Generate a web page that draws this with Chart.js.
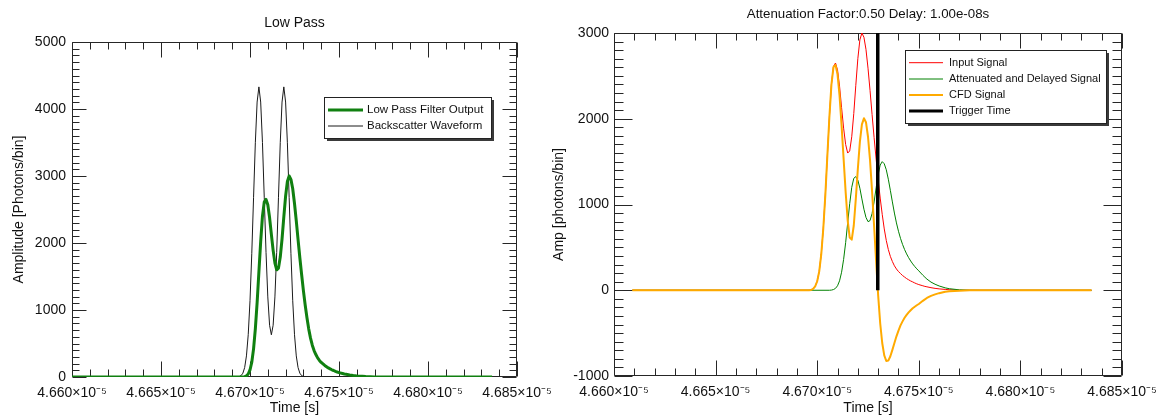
<!DOCTYPE html>
<html><head><meta charset="utf-8">
<script src="https://cdn.jsdelivr.net/npm/chart.js@4.4.1/dist/chart.umd.min.js"></script>
<style>
html,body{margin:0;padding:0;background:#fff;width:1159px;height:417px;overflow:hidden;}
canvas{position:absolute;top:0;}
#left{left:0}
#right{left:540px}
</style></head><body>
<canvas id="left" width="580" height="417"></canvas>
<canvas id="right" width="619" height="417"></canvas>
<script>
// ---------- tick labels ----------
const xTicksNs = [46600, 46650, 46700, 46750, 46800, 46850];   // time in ns (4.660e-5 s ...)
const yTicksLeft = [0, 1000, 2000, 3000, 4000, 5000];
const yTicksRight = [-1000, 0, 1000, 2000, 3000];

// ---------- left chart: Low Pass ----------
const backscatterTimeNs = [46600, 46694, 46695, 46696, 46697, 46698, 46699, 46700, 46701, 46702, 46703, 46704, 46705, 46706, 46707, 46708, 46709, 46710, 46711, 46712, 46713, 46714, 46715, 46716, 46717, 46718, 46719, 46720, 46721, 46722, 46723, 46724, 46725, 46726, 46727, 46728, 46729, 46730, 46731, 46732, 46836];
const backscatterAmp = [0, 7, 21, 57, 141, 315, 631, 1138, 1840, 2676, 3496, 4104, 4330, 4104, 3498, 2683, 1861, 1195, 772, 630, 772, 1195, 1861, 2683, 3498, 4104, 4330, 4104, 3496, 2676, 1840, 1138, 631, 315, 141, 57, 21, 7, 2, 0, 0];

// low pass filter output (= input signal of the CFD panel)
const lowPassTimeNs = [46696, 46697, 46698, 46699, 46700, 46701, 46702, 46703, 46704, 46705, 46706, 46707, 46708, 46709, 46710, 46711, 46712, 46713, 46714, 46715, 46716, 46717, 46718, 46719, 46720, 46721, 46722, 46723, 46724, 46725, 46726, 46727, 46728, 46729, 46730, 46731, 46732, 46733, 46734, 46735, 46736, 46737, 46738, 46739, 46740, 46741, 46742, 46743, 46744, 46745, 46746, 46747, 46748, 46749, 46750, 46752, 46753, 46754, 46756, 46758, 46760, 46763, 46765, 46770];
const lowPassAmp = [0, 4, 15, 45, 105, 220, 420, 720, 1110, 1570, 2020, 2400, 2610, 2650, 2570, 2380, 2130, 1890, 1700, 1600, 1625, 1790, 2060, 2390, 2700, 2920, 3000, 2950, 2810, 2590, 2330, 2050, 1780, 1530, 1290, 1075, 885, 715, 580, 475, 395, 335, 285, 248, 218, 195, 172, 154, 136, 122, 108, 97, 85, 75, 66, 52, 45, 40, 30, 22, 16, 10, 6, 0];
const leftSpanNs = [46600, 46836];

// ---------- right chart: CFD ----------
const attenTimeNs = [46706, 46707, 46708, 46709, 46710, 46711, 46712, 46713, 46714, 46715, 46716, 46717, 46718, 46719, 46720, 46721, 46722, 46723, 46724, 46725, 46726, 46727, 46728, 46729, 46730, 46731, 46732, 46733, 46734, 46735, 46736, 46737, 46738, 46739, 46740, 46741, 46742, 46743, 46744, 46745, 46746, 46747, 46748, 46749, 46750, 46752, 46753, 46754, 46756, 46758, 46760, 46763, 46765, 46770, 46775, 46780];
const attenAmp = [0, 2, 8, 22, 52, 110, 210, 360, 555, 785, 1010, 1200, 1305, 1325, 1285, 1190, 1065, 945, 850, 800, 812, 895, 1030, 1195, 1350, 1460, 1500, 1475, 1405, 1295, 1165, 1030, 900, 785, 688, 605, 535, 475, 424, 380, 341, 307, 277, 250, 226, 175, 152, 130, 95, 70, 50, 28, 18, 5, 1, 0];
const cfdTimeNs = [46696, 46697, 46698, 46699, 46700, 46701, 46702, 46703, 46704, 46705, 46706, 46707, 46708, 46709, 46710, 46711, 46712, 46713, 46714, 46715, 46716, 46717, 46718, 46719, 46720, 46721, 46722, 46723, 46724, 46725, 46726, 46727, 46728, 46729, 46730, 46731, 46732, 46733, 46734, 46735, 46736, 46737, 46738, 46739, 46740, 46741, 46742, 46743, 46744, 46745, 46746, 46747, 46748, 46749, 46750, 46752, 46753, 46754, 46756, 46758, 46760, 46763, 46765, 46770, 46775, 46780];
const cfdAmp = [0, 4, 15, 45, 105, 220, 420, 720, 1110, 1570, 2020, 2398, 2602, 2628, 2518, 2270, 1920, 1530, 1145, 815, 615, 590, 755, 1065, 1415, 1730, 1935, 2005, 1960, 1790, 1518, 1155, 750, 335, -60, -385, -615, -760, -825, -820, -770, -695, -615, -537, -470, -410, -363, -321, -288, -258, -233, -210, -192, -175, -160, -123, -107, -90, -65, -48, -34, -18, -12, -5, -1, 0];
const rightSpanNs = [46609, 46835];
const triggerTimeNs = [46729.8, 46729.8];
const triggerAmp = [0, 3000];

// ---------- helpers ----------
const FONT = 'Liberation Sans';
function pts(xs, ys) { return xs.map((x, i) => ({x: x, y: ys[i]})); }
function padded(xs, ys, span) {
  return [{x: span[0], y: 0}].concat(pts(xs, ys), [{x: span[1], y: 0}]);
}
const fmtX = v => (v / 1e4).toFixed(3) + '×10⁻⁵';

const frameTicks = {
  id: 'frameTicks',
  beforeDatasetsDraw(chart, args, o) {
    const {ctx, chartArea: a, scales: {x, y}} = chart;
    const L = Math.round(a.left) + 0.5, R = Math.round(a.right) - 0.5;
    const T = Math.round(a.top) + 0.5, B = Math.round(a.bottom) - 0.5;
    ctx.save();
    ctx.strokeStyle = '#262626'; ctx.lineWidth = 1;
    ctx.beginPath();
    ctx.rect(L, T, R - L, B - T);
    const xs = x.ticks.map(t => t.value);
    const xStep = (xs[1] - xs[0]) / o.xMinorN;
    for (let k = 0; xs[0] + k * xStep <= x.max + 1e-9; k++) {
      const v = xs[0] + k * xStep;
      const len = (k % o.xMinorN === 0) ? o.xMajor : o.xMinor;
      const px = Math.round(x.getPixelForValue(v)) + 0.5;
      ctx.moveTo(px, B); ctx.lineTo(px, B - len);
      ctx.moveTo(px, T); ctx.lineTo(px, T + len);
    }
    const ys = y.ticks.map(t => t.value);
    const yStep = (ys[1] - ys[0]) / o.yMinorN;
    for (let k = 0; ys[0] + k * yStep <= y.max + 1e-9; k++) {
      const v = ys[0] + k * yStep;
      const len = (k % o.yMinorN === 0) ? o.yMajor : o.yMinor;
      const py = Math.round(y.getPixelForValue(v)) + 0.5;
      ctx.moveTo(L, py); ctx.lineTo(L + len, py);
      ctx.moveTo(R, py); ctx.lineTo(R - len, py);
    }
    ctx.stroke();
    ctx.restore();
  }
};

const boxLegend = {
  id: 'boxLegend',
  afterDraw(chart, args, o) {
    if (!o.box) return;
    const ctx = chart.ctx;
    const b = o.box;
    ctx.save();
    ctx.fillStyle = '#3a3a3a';
    ctx.fillRect(b.x + 3, b.y + 3, b.w, b.h);
    ctx.fillStyle = '#fff';
    ctx.fillRect(b.x, b.y, b.w, b.h);
    ctx.strokeStyle = '#222'; ctx.lineWidth = 1;
    ctx.strokeRect(b.x + 0.5, b.y + 0.5, b.w, b.h);
    ctx.font = o.fontSize + 'px "' + FONT + '"';
    ctx.textBaseline = 'middle'; ctx.textAlign = 'left';
    chart.data.datasets.forEach((ds, i) => {
      const ry = o.rows[i];
      ctx.strokeStyle = ds.borderColor;
      ctx.lineWidth = ds.legendWidth || ds.borderWidth;
      ctx.beginPath(); ctx.moveTo(o.lineX[0], ry); ctx.lineTo(o.lineX[1], ry); ctx.stroke();
      ctx.fillStyle = '#111';
      ctx.fillText(ds.label, o.textX, ry);
    });
    ctx.restore();
  }
};

const topTitle = {
  id: 'topTitle',
  afterDraw(chart, args, o) {
    if (!o.text) return;
    const {ctx, chartArea: a} = chart;
    ctx.save();
    ctx.font = o.fontSize + 'px "' + FONT + '"';
    ctx.fillStyle = '#111'; ctx.textAlign = 'center'; ctx.textBaseline = 'middle';
    ctx.fillText(o.text, (a.left + a.right) / 2, o.y);
    ctx.restore();
  }
};

function scales(yMin, yMax, yTicks, yWidth, xHeight, yTitle, yPad) {
  return {
    x: {
      type: 'linear', min: xTicksNs[0], max: xTicksNs[xTicksNs.length - 1],
      afterBuildTicks: s => { s.ticks = xTicksNs.map(v => ({value: v})); },
      afterFit: s => { s.height = xHeight; s.paddingLeft = 0; s.paddingRight = 0; },
      grid: {display: false, drawTicks: false, tickLength: 0}, border: {display: false},
      ticks: {autoSkip: false, maxRotation: 0, minRotation: 0, padding: 8, color: '#111',
              font: {family: FONT, size: 14}, callback: v => fmtX(v)},
      title: {display: true, text: 'Time [s]', color: '#111', font: {family: FONT, size: 14},
              padding: {top: 0, bottom: 0}}
    },
    y: {
      type: 'linear', min: yMin, max: yMax,
      afterBuildTicks: s => { s.ticks = yTicks.map(v => ({value: v})); },
      afterFit: s => { s.width = yWidth; s.paddingTop = 0; s.paddingBottom = 0; },
      grid: {display: false, drawTicks: false, tickLength: 0}, border: {display: false},
      ticks: {padding: yPad, color: '#111', font: {family: FONT, size: 14}, callback: v => String(v)},
      title: {display: true, text: yTitle, color: '#111', font: {family: FONT, size: 14},
              padding: {top: 10.6, bottom: 0}}
    }
  };
}

const common = {
  responsive: false, animation: false, devicePixelRatio: 1,
  elements: {point: {radius: 0}, line: {tension: 0, borderJoinStyle: 'round', borderCapStyle: 'butt'}},
  events: []
};

new Chart(document.getElementById('left'), {
  type: 'line',
  data: {datasets: [
    {label: 'Low Pass Filter Output', data: padded(lowPassTimeNs, lowPassAmp, leftSpanNs),
     borderColor: 'rgb(16,128,16)', borderWidth: 3, order: 1, fill: false},
    {label: 'Backscatter Waveform', data: pts(backscatterTimeNs, backscatterAmp),
     borderColor: '#1a1a1a', borderWidth: 1, order: 2, fill: false}
  ]},
  options: Object.assign({}, common, {
    layout: {padding: {left: 0, right: 63, top: 42, bottom: 0}},
    scales: scales(0, 5000, yTicksLeft, 72, 40, 'Amplitude [Photons/bin]', 6),
    plugins: {
      legend: {display: false}, tooltip: {enabled: false}, title: {display: false},
      frameTicks: {xMinorN: 5, yMinorN: 10, xMajor: 15, xMinor: 7, yMajor: 14, yMinor: 7},
      boxLegend: {box: {x: 324, y: 97, w: 167, h: 41}, rows: [110, 126], lineX: [328, 363], textX: 367, fontSize: 11.5},
      topTitle: {text: 'Low Pass', y: 23, fontSize: 14}
    }
  }),
  plugins: [frameTicks, boxLegend, topTitle]
});

new Chart(document.getElementById('right'), {
  type: 'line',
  data: {datasets: [
    {label: 'Input Signal', data: padded(lowPassTimeNs, lowPassAmp, rightSpanNs),
     borderColor: 'rgb(255,0,0)', borderWidth: 1, order: 4, fill: false},
    {label: 'Attenuated and Delayed Signal', data: padded(attenTimeNs, attenAmp, rightSpanNs),
     borderColor: 'rgb(0,128,0)', borderWidth: 1, order: 3, fill: false},
    {label: 'CFD Signal', data: padded(cfdTimeNs, cfdAmp, rightSpanNs),
     borderColor: 'rgb(255,170,0)', borderWidth: 2, order: 2, fill: false},
    {label: 'Trigger Time', data: pts(triggerTimeNs, triggerAmp),
     borderColor: '#000', borderWidth: 3.5, legendWidth: 3, order: 1, fill: false}
  ]},
  options: Object.assign({}, common, {
    layout: {padding: {left: 0, right: 37, top: 33, bottom: 0}},
    scales: scales(-1000, 3000, yTicksRight, 74, 41, 'Amp [photons/bin]', 5),
    plugins: {
      legend: {display: false}, tooltip: {enabled: false}, title: {display: false},
      frameTicks: {xMinorN: 5, yMinorN: 10, xMajor: 15, xMinor: 7, yMajor: 18, yMinor: 9},
      boxLegend: {box: {x: 365, y: 50, w: 201, h: 73}, rows: [62.7, 79, 95, 111], lineX: [369, 403], textX: 409, fontSize: 11},
      topTitle: {text: 'Attenuation Factor:0.50 Delay: 1.00e-08s', y: 14, fontSize: 13.3}
    }
  }),
  plugins: [frameTicks, boxLegend, topTitle]
});
</script>
</body></html>
